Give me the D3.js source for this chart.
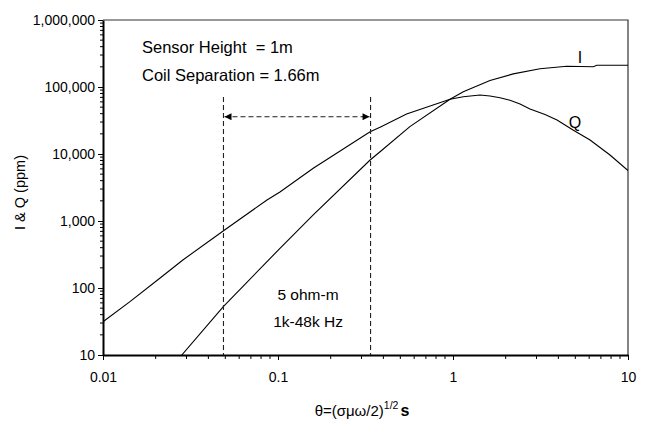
<!DOCTYPE html>
<html><head><meta charset="utf-8">
<script src="https://cdn.jsdelivr.net/npm/d3@7"></script>
<style>
html,body{margin:0;padding:0;background:#fff;}
text{font-family:"Liberation Sans",Arial,sans-serif;fill:#000;}
</style></head>
<body><svg id="c" width="645" height="421"></svg>
<script>
// ---- data ----
const xTickValues = [0.01, 0.1, 1, 10];
const xTickLabels = ["0.01", "0.1", "1", "10"];
const yTickValues = [10, 100, 1000, 10000, 100000, 1000000];
const yTickLabels = ["10", "100", "1,000", "10,000", "100,000", "1,000,000"];

const iTheta = [0.0282, 0.0487, 0.1026, 0.159, 0.336, 0.383, 0.567, 0.962, 1.145, 1.627, 2.21, 3.14, 4.47, 6.34, 6.63, 10];
const iValue = [10, 52.6, 391, 1230, 8130, 10800, 25600, 65500, 85100, 125000, 157000, 187000, 204000, 201000, 211000, 211000];

const qTheta = [0.01, 0.01426, 0.0212, 0.0286, 0.0486, 0.0865, 0.1026, 0.159, 0.336, 0.383, 0.543, 0.962, 1.145, 1.426, 1.627, 1.856, 2.117, 2.415, 2.754, 3.356, 3.93, 4.85, 6.07, 7.89, 10];
const qValue = [31.4, 62.5, 141, 262, 709, 2057, 2710, 6120, 21500, 25100, 39500, 65500, 71700, 76000, 73400, 69000, 63500, 55800, 46900, 38900, 32200, 22800, 16200, 9660, 5670];

const bandTheta = [0.0488, 0.338];   // 1k - 48k Hz band
const bandArrowValue = 36000;
const bandTopValue = 71000;

const notes = ["Sensor Height  = 1m", "Coil Separation = 1.66m"];
const bandNotes = ["5 ohm-m", "1k-48k Hz"];
const seriesNames = ["I", "Q"];

// ---- layout ----
const svg = d3.select("#c");
const L = 103, R = 628, T = 20, B = 355;
const x = d3.scaleLog().domain([0.01, 10]).range([L, R]);
const y = d3.scaleLog().domain([10, 1000000]).range([B, T]);

const defs = svg.append("defs");
defs.append("clipPath").attr("id", "clip").append("rect")
  .attr("x", L).attr("y", T).attr("width", R - L).attr("height", B - T);
defs.append("marker").attr("id", "arr").attr("viewBox", "0 0 10 10")
  .attr("refX", 10).attr("refY", 5).attr("markerWidth", 11).attr("markerHeight", 7)
  .attr("markerUnits", "userSpaceOnUse").attr("orient", "auto-start-reverse")
  .append("path").attr("d", "M0,0 L10,5 L0,10 Z").attr("fill", "#000");

// frame top/right
svg.append("path").attr("d", `M${L},${T}H${R}V${B}`).attr("fill", "none")
  .attr("stroke", "#333").attr("stroke-width", 1.2);

// minor ticks
const xMinor = [], yMinor = [];
for (let d = -2; d < 1; d++) for (let k = 2; k <= 9; k++) xMinor.push(k * Math.pow(10, d));
for (let d = 1; d < 6; d++) for (let k = 2; k <= 9; k++) yMinor.push(k * Math.pow(10, d));

const FONT = "Liberation Sans, Arial, sans-serif";
const xAxis = d3.axisBottom(x).tickValues(xTickValues)
  .tickFormat((d, i) => xTickLabels[i]).tickSizeInner(5).tickSizeOuter(0).tickPadding(12);
const gx = svg.append("g").attr("transform", `translate(0,${B})`).call(xAxis);
svg.append("g").attr("transform", `translate(0,${B})`)
  .selectAll("line").data(xMinor).join("line")
  .attr("x1", d => x(d)).attr("x2", d => x(d)).attr("y1", 0).attr("y2", 4)
  .attr("stroke", "#000").attr("stroke-width", 1);

const yAxis = d3.axisLeft(y).tickValues(yTickValues)
  .tickFormat((d, i) => yTickLabels[i]).tickSizeInner(5).tickSizeOuter(0).tickPadding(3);
const gy = svg.append("g").attr("transform", `translate(${L},0)`).call(yAxis);
svg.append("g").attr("transform", `translate(${L},0)`)
  .selectAll("line").data(yMinor).join("line")
  .attr("y1", d => y(d)).attr("y2", d => y(d)).attr("x1", 0).attr("x2", -3)
  .attr("stroke", "#000").attr("stroke-width", 1);

[gx, gy].forEach(g => {
  g.select(".domain").attr("stroke", "#000").attr("stroke-width", 2);
  g.selectAll(".tick line").attr("stroke", "#000").attr("stroke-width", 1);
  g.selectAll(".tick text").attr("font-size", 14).attr("font-family", FONT).attr("fill", "#000");
});

// curves
const line = d3.line().x(d => x(d[0])).y(d => y(d[1]));
const g = svg.append("g").attr("clip-path", "url(#clip)");
g.append("path").datum(iTheta.map((t, i) => [t, iValue[i]])).attr("d", line)
  .attr("fill", "none").attr("stroke", "#000").attr("stroke-width", 1.1);
g.append("path").datum(qTheta.map((t, i) => [t, qValue[i]])).attr("d", line)
  .attr("fill", "none").attr("stroke", "#000").attr("stroke-width", 1.1);

// band dashed lines
bandTheta.forEach(t => {
  svg.append("line").attr("x1", x(t)).attr("x2", x(t)).attr("y1", y(bandTopValue)).attr("y2", B)
    .attr("stroke", "#222").attr("stroke-width", 1.1).attr("stroke-dasharray", "5,3");
});
svg.append("line").attr("x1", x(bandTheta[0]) + 1).attr("x2", x(bandTheta[1]) - 1)
  .attr("y1", y(bandArrowValue)).attr("y2", y(bandArrowValue))
  .attr("stroke", "#222").attr("stroke-width", 1.1).attr("stroke-dasharray", "5,3")
  .attr("marker-start", "url(#arr)").attr("marker-end", "url(#arr)");

// notes
svg.append("text").attr("x", 142).attr("y", 53).attr("font-size", 16.5).attr("xml:space","preserve").style("white-space","pre").text(notes[0]);
svg.append("text").attr("x", 142).attr("y", 81).attr("font-size", 16.5).text(notes[1]);
const bandMid = Math.sqrt(bandTheta[0] * bandTheta[1]);
svg.append("text").attr("x", x(bandMid) + 11).attr("y", 300).attr("font-size", 15.5).attr("text-anchor", "middle").text(bandNotes[0]);
svg.append("text").attr("x", x(bandMid) + 11).attr("y", 327).attr("font-size", 15.5).attr("text-anchor", "middle").text(bandNotes[1]);

svg.append("text").attr("x", 580).attr("y", 63).attr("font-size", 16).attr("text-anchor", "middle").text(seriesNames[0]);
svg.append("text").attr("x", 575).attr("y", 127.5).attr("font-size", 16).attr("text-anchor", "middle").text(seriesNames[1]);

// axis titles
svg.append("text").attr("transform", `translate(25,${(T + B) / 2 + 5}) rotate(-90)`)
  .attr("text-anchor", "middle").attr("font-size", 14.5).text("I & Q (ppm)");
const xt = svg.append("text").attr("x", 362).attr("y", 416).attr("text-anchor", "middle").attr("font-size", 15);
xt.append("tspan").text("θ=(σμω/2)");
xt.append("tspan").attr("font-size", 10.5).attr("dy", -7).text("1/2");
xt.append("tspan").attr("dy", 7).attr("font-weight", "bold").attr("dx", 2).attr("font-size", 16).text("s");
</script></body></html>
